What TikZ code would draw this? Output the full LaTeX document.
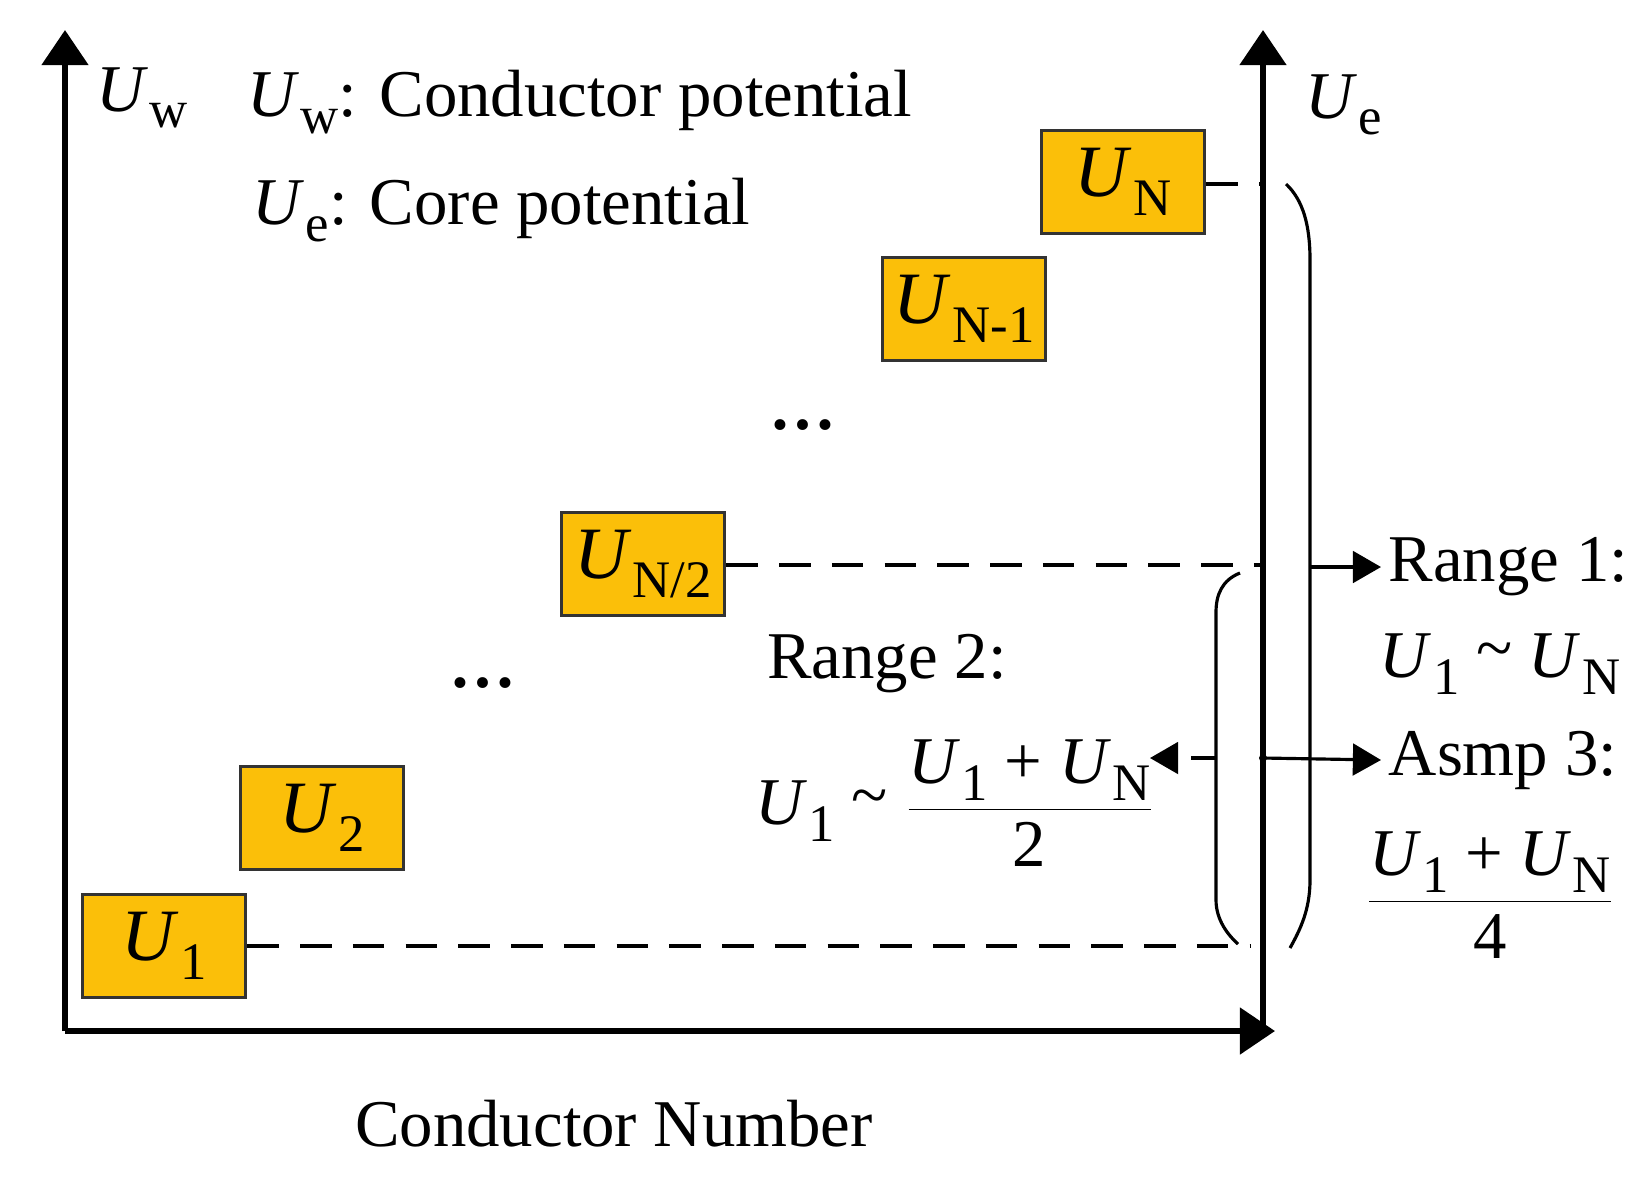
\documentclass[tikz,border=0pt]{standalone}
\usepackage{fontspec}
\setmainfont{Liberation Serif}
\usetikzlibrary{arrows.meta}
\newcommand{\Uv}[1]{\textit{U}\kern0.02em\raisebox{-0.25em}{\fontsize{15}{15}\selectfont #1}}
\begin{document}
\begin{tikzpicture}[x=0.01cm,y=-0.01cm,
  every node/.style={font=\fontsize{19}{22}\selectfont},
  box/.style={draw=black!80,line width=1pt,fill=yellow!60!orange!95!red,minimum width=1.63cm,minimum height=1.03cm,inner sep=0pt,font=\fontsize{21}{24}\selectfont},
  ax/.style={line width=1.8pt,-{Triangle[length=10pt,width=13pt]}},
  dsh/.style={line width=0.9pt,dash pattern=on 9pt off 6pt},
  thin/.style={line width=0.9pt}]
\useasboundingbox (0,0) rectangle (1652,1187);
\coordinate (o) at (65,1031);
\coordinate (yt) at (65,30);
\coordinate (xe) at (1275,1031);
\coordinate (rb) at (1263,1031);
\coordinate (rt) at (1263,30);
\draw[ax] (o) -- (yt);
\draw[ax] (o) -- (xe);
\draw[ax] (rb) -- (rt);
\node (lw) at (142,98) {\Uv{w}};
\node (le) at (1344,105) {\Uv{e}};
\node[anchor=west] (l1) at (235,102) {\Uv{w}: Conductor potential};
\node[anchor=west] (l2) at (240,210) {\Uv{e}: Core potential};
\node (xl) at (614,1124) {Conductor Number};
\node[box] (b1) at (164,946) {\Uv{1}};
\node[box] (b2) at (322,818) {\Uv{2}};
\node[box] (b3) at (643,564) {\Uv{N/2}};
\node[box] (b4) at (964,309) {\Uv{N-1}};
\node[box] (b5) at (1123,182) {\Uv{N}};
\node (d1) at (803,425) {\textbf{\dots}};
\node (d2) at (483,683) {\textbf{\dots}};
\coordinate (a5) at (1263,184);
\coordinate (a3) at (1263,565);
\coordinate (a1) at (1250,946);
\draw[dsh] (b5.east|-a5) -- (a5);
\draw[dsh] (b3.east|-a3) -- (a3);
\draw[dsh] (b1.east|-a1) -- (a1);
% inner bracket
\draw[thin] (1240,573) .. controls (1222,580) and (1216,595) .. (1216,612) -- (1216,900) .. controls (1216,920) and (1228,935) .. (1238,944);
% outer bracket
\draw[thin] (1286,184) .. controls (1303,200) and (1310,225) .. (1310,260) -- (1310,880) .. controls (1310,910) and (1300,930) .. (1290,948);
\coordinate (r1s) at (1310,567);
\node[anchor=west,inner sep=2pt] (r1) at (1381,567) {Range 1:};
\node (r1m) at (1500,664) {\Uv{1} \raisebox{0.1em}{\textasciitilde} \Uv{N}};
\draw[thin,-{Triangle[length=8pt,width=9pt]}] (r1s) -- (r1.west);
\coordinate (dot) at (1263,758);
\fill (dot) circle (4);
\node[anchor=west,inner sep=2pt] (as) at (1381,760) {Asmp 3:};
\draw[thin,-{Triangle[length=8pt,width=9pt]}] (dot) -- (as.west);
\node (asm) at (1490,895) {$\displaystyle\frac{\hbox{\Uv{1} + \Uv{N}}}{\hbox{4}}$};
\node (r2) at (887,664) {Range 2:};
\node (r2m) at (955,803) {\Uv{1} \raisebox{0.1em}{\textasciitilde} $\displaystyle\frac{\hbox{\Uv{1} + \Uv{N}}}{\hbox{2}}$};
\coordinate (r2s) at (1216,758);
\draw[thin,dash pattern=on 7pt off 4pt,-{Triangle[length=8pt,width=9pt]}] (r2s) -- (1150,758);
\end{tikzpicture}
\end{document}
